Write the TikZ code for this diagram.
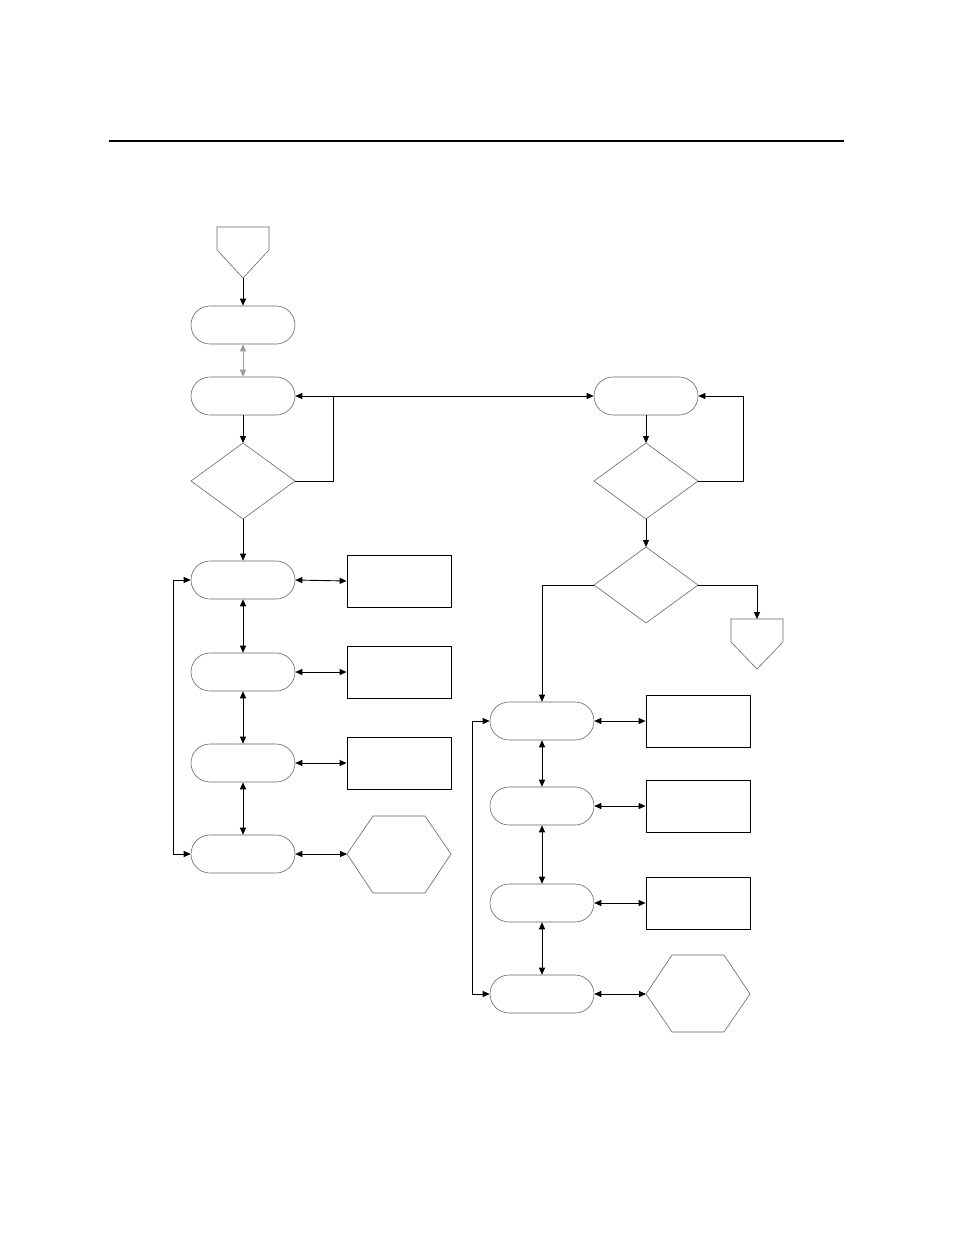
\documentclass[tikz,border=0pt]{standalone}
\usetikzlibrary{arrows.meta}
\begin{document}
\begin{tikzpicture}[x=1pt,y=-1pt,
  term/.style={draw=black!60,line width=0.6pt,rounded corners=19pt,minimum width=104pt,minimum height=38pt,inner sep=0},
  boxr/.style={draw=black,line width=0.8pt,minimum width=104pt,minimum height=52pt,inner sep=0},
  conn/.style={line width=0.9pt,-{Triangle[length=7pt,width=6pt]}},
  dconn/.style={line width=0.9pt,{Triangle[length=7pt,width=6pt]}-{Triangle[length=7pt,width=6pt]}},
  shp/.style={draw=black!60,line width=0.6pt}]
\useasboundingbox (0,0) rectangle (954,1235);
\draw[line width=2.5pt] (109,141) -- (844,141);
% top off-page
\draw[shp] (217,227) -- (269,227) -- (269,250) -- (243,278) -- (217,250) -- cycle;
\coordinate (p1) at (243,278);
\node[term] (a1) at (243,325) {};
\node[term] (a2) at (243,396) {};
\draw[shp] (243,443) -- (295,481) -- (243,519) -- (191,481) -- cycle;
\coordinate (d1t) at (243,443); \coordinate (d1b) at (243,519); \coordinate (d1r) at (295,481);
\node[term] (b1) at (646,396) {};
\draw[shp] (646,443) -- (698,481) -- (646,519) -- (594,481) -- cycle;
\coordinate (d2t) at (646,443); \coordinate (d2b) at (646,519); \coordinate (d2r) at (698,481);
\draw[shp] (646,547) -- (698,585) -- (646,623) -- (594,585) -- cycle;
\coordinate (d3t) at (646,547); \coordinate (d3l) at (594,585); \coordinate (d3r) at (698,585);
\draw[shp] (731,619) -- (783,619) -- (783,642) -- (757,669) -- (731,642) -- cycle;
\coordinate (p2) at (757,619);
\draw[conn] (p1) -- (a1.north);
\draw[dconn,draw=black!40] (a1.south) -- (a2.north);
\draw[conn] (a2.south) -- (d1t);
\draw[conn] (d1r) -- (333,481) -- (333,396) -- (a2.east);
\draw[conn] (333,396) -- (b1.west);
\draw[conn] (b1.south) -- (d2t);
\draw[conn] (d2r) -- (743,481) -- (743,396) -- (b1.east);
\draw[conn] (d2b) -- (d3t);
\draw[conn] (d3r) -- (757,585) -- (p2);
% left column
\foreach \n/\y in {1/580,2/672,3/763,4/854} \node[term] (l\n) at (243,\y) {};
\node[boxr] (r1) at (399,581) {};
\node[boxr] (r2) at (399,672) {};
\node[boxr] (r3) at (399,763) {};
\draw[shp] (373,816) -- (425,816) -- (451,854) -- (425,893) -- (373,893) -- (347,854) -- cycle;
\coordinate (h1) at (347,854);
\draw[conn] (d1b) -- (l1.north);
\draw[dconn] (l1.south) -- (l2.north);
\draw[dconn] (l2.south) -- (l3.north);
\draw[dconn] (l3.south) -- (l4.north);
\draw[dconn] (l1.east) -- (r1.west);
\draw[dconn] (l2.east) -- (r2.west);
\draw[dconn] (l3.east) -- (r3.west);
\draw[dconn] (l4.east) -- (h1);
\draw[dconn] (l1.west) -- (173,580) -- (173,854) -- (l4.west);
% right column
\foreach \n/\y in {1/721,2/806,3/903,4/994} \node[term] (c\n) at (542,\y) {};
\node[boxr] (s1) at (698,721) {};
\node[boxr] (s2) at (698,806) {};
\node[boxr] (s3) at (698,903) {};
\draw[shp] (672,955) -- (724,955) -- (750,994) -- (724,1032) -- (672,1032) -- (646,994) -- cycle;
\coordinate (h2) at (646,994);
\draw[conn] (d3l) -- (542,585) -- (c1.north);
\draw[dconn] (c1.south) -- (c2.north);
\draw[dconn] (c2.south) -- (c3.north);
\draw[dconn] (c3.south) -- (c4.north);
\draw[dconn] (c1.east) -- (s1.west);
\draw[dconn] (c2.east) -- (s2.west);
\draw[dconn] (c3.east) -- (s3.west);
\draw[dconn] (c4.east) -- (h2);
\draw[dconn] (c1.west) -- (472,721) -- (472,994) -- (c4.west);
\end{tikzpicture}
\end{document}
